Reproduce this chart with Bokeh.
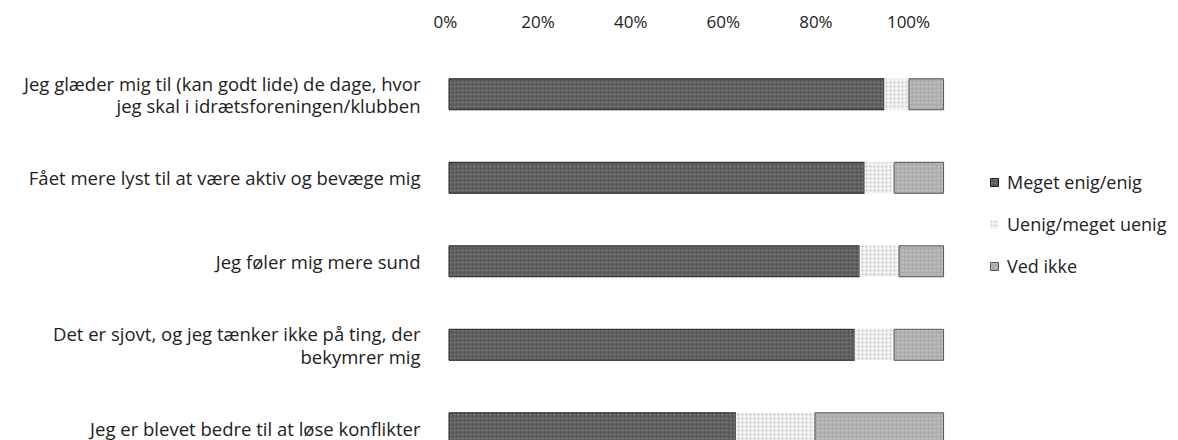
from bokeh.plotting import figure
from bokeh.models import (ColumnDataSource, Range1d, LinearAxis, FixedTicker,
                          PrintfTickFormatter, Legend)
from bokeh.embed import file_html
from bokeh.resources import INLINE

# ---- data ----
categories = [
    "Jeg glæder mig til (kan godt lide) de dage, hvor\njeg skal i idrætsforeningen/klubben",
    "Fået mere lyst til at være aktiv og bevæge mig",
    "Jeg føler mig mere sund",
    "Det er sjovt, og jeg tænker ikke på ting, der\nbekymrer mig",
    "Jeg er blevet bedre til at løse konflikter",
]
enig = [88, 84, 83, 82, 58]
uenig = [5, 6, 8, 8, 16]
ved_ikke = [7, 10, 9, 10, 26]
series_names = ["Meget enig/enig", "Uenig/meget uenig", "Ved ikke"]
tick_values = [0, 20, 40, 60, 80, 100]

ypos = [len(categories) - 1 - i for i in range(len(categories))]
source = ColumnDataSource(dict(y=ypos, enig=enig, uenig=uenig, ved=ved_ikke))

FONT = "Open Sans"
TXT = "#222222"

p = figure(width=1178, height=440, output_backend="svg", toolbar_location=None,
           x_range=Range1d(-2.53, 147.5), y_range=Range1d(-0.146, 4.584),
           x_axis_location=None, y_axis_location="left",
           min_border_left=436, min_border_right=0, min_border_top=45,
           min_border_bottom=0)
p.outline_line_color = None
p.xgrid.visible = False
p.ygrid.visible = False
p.background_fill_color = "white"
p.border_fill_color = "white"

# secondary range for the percent labels (as placed in the original)
p.extra_x_ranges = {"ticks": Range1d(-1.94, 158.3)}
top_axis = LinearAxis(x_range_name="ticks", ticker=FixedTicker(ticks=tick_values),
                      formatter=PrintfTickFormatter(format="%d%%"))
top_axis.axis_line_color = None
top_axis.major_tick_line_color = None
top_axis.minor_tick_line_color = None
top_axis.major_label_standoff = 7
top_axis.major_label_text_font = FONT
top_axis.major_label_text_font_size = "17px"
top_axis.major_label_text_color = TXT
p.add_layout(top_axis, "above")

yax = p.yaxis[0]
yax.ticker = FixedTicker(ticks=ypos)
yax.major_label_overrides = {y: c for y, c in zip(ypos, categories)}
yax.axis_line_color = None
yax.major_tick_line_color = None
yax.minor_tick_line_color = None
yax.major_label_standoff = 10
yax.major_label_text_font = FONT
yax.major_label_text_font_size = "18.5px"
yax.major_label_text_line_height = 0.9
yax.major_label_text_color = TXT

renderers = p.hbar_stack(
    ["enig", "uenig", "ved"], y="y", height=0.371, source=source,
    fill_color=["#5a5a5a", "#f3f3f3", "#acacac"],
    line_color=["#1e1e1e", None, "#555555"],
    line_width=1,
    hatch_pattern=["dot", "dot", "dot"],
    hatch_color=["#9a9a9a", "#a0a0a0", "#d8d8d8"],
    hatch_scale=4, hatch_weight=1, hatch_alpha=0.6,
)

legend = Legend(items=[(n, [r]) for n, r in zip(series_names, renderers)],
                location=(553, 161), orientation="vertical")
legend.glyph_width = 10
legend.glyph_height = 10
legend.label_height = 26
legend.spacing = 16
legend.label_standoff = 8
legend.padding = 0
legend.margin = 0
legend.border_line_color = None
legend.background_fill_alpha = 0
legend.label_text_font = FONT
legend.label_text_font_size = "18px"
legend.label_text_color = TXT
p.add_layout(legend, "center")

open("out.html", "w").write(file_html(p, INLINE))
